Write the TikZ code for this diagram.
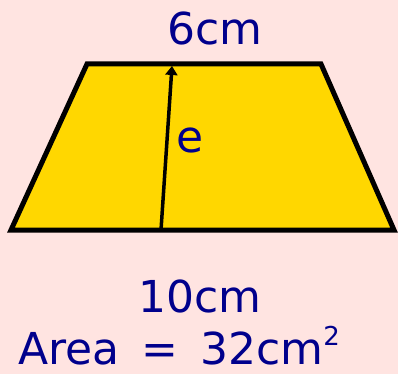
\documentclass[tikz,border=0pt]{standalone}
\usepackage{fontspec}
\setmainfont{DejaVu Sans}
\usetikzlibrary{arrows.meta}
\definecolor{bgpink}{RGB}{255,228,225}
\definecolor{trapyellow}{RGB}{255,215,0}
\definecolor{labelblue}{RGB}{0,0,140}
\begin{document}
\begin{tikzpicture}[
    x=1pt, y=-1pt,
    lbl/.style={text=labelblue, font=\fontsize{44}{48}\selectfont, inner sep=0pt, anchor=base},
    >={Triangle[length=9pt,width=12pt]}
]
\fill[bgpink] (0,0) rectangle (398,374);
\useasboundingbox (0,0) rectangle (398,374);
% corners
\coordinate (tl) at (87,64);
\coordinate (tr) at (321,64);
\coordinate (br) at (394,230);
\coordinate (bl) at (11,230);
\draw[line width=5pt, fill=trapyellow, line join=miter] (tl) -- (tr) -- (br) -- (bl) -- cycle;
% height
\coordinate (foot) at (161,230);
\coordinate (top) at (172,66);
\draw[->, line width=3.5pt] (foot) -- (top);
\node[lbl] (topside) at (215,45) {6cm};
\node[lbl, anchor=base west] (height) at (176,153) {e};
\node[lbl] (bottomside) at (200,312) {10cm};
\node[lbl, anchor=base west] (area) at (18,364) {Area\hspace{22pt}=\hspace{22pt}32cm\raisebox{19pt}{\fontsize{26}{28}\selectfont 2}};
\end{tikzpicture}
\end{document}
